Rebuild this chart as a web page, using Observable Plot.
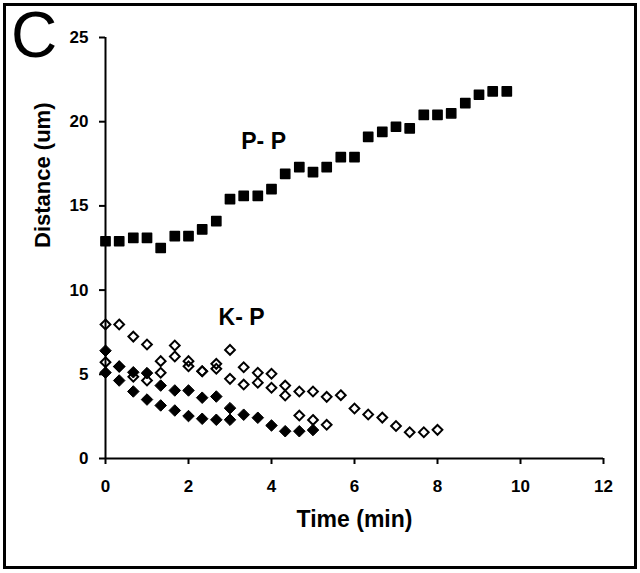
<!DOCTYPE html>
<html>
<head>
<meta charset="utf-8">
<script src="https://cdn.jsdelivr.net/npm/d3@7"></script>
<script src="https://cdn.jsdelivr.net/npm/@observablehq/plot@0.6"></script>
<style>
  html, body { margin: 0; padding: 0; background: #fff; }
  #wrap { position: relative; width: 640px; height: 573px; overflow: hidden; }
  #border { position: absolute; left: 3px; top: 3px; width: 628px; height: 560px; border: 3px solid #000; }
  #panel { position: absolute; left: 11px; top: 0px; font-family: "Liberation Sans", Arial, sans-serif; font-size: 64px; line-height: 1.12; color: #000; }
  svg { position: absolute; left: 0; top: 0; }
</style>
</head>
<body>
<div id="wrap">
  <div id="border"></div>
  <div id="panel">C</div>
</div>
<script>
// Time points (min), sampled every ~20 s
const times = [0, 0.33, 0.67, 1, 1.33, 1.67, 2, 2.33, 2.67, 3, 3.33, 3.67, 4, 4.33, 4.67,
               5, 5.33, 5.67, 6, 6.33, 6.67, 7, 7.33, 7.67, 8, 8.33, 8.67, 9, 9.33, 9.67];

// P-P distance (um), filled squares
const ppDist = [12.9, 12.9, 13.1, 13.1, 12.5, 13.2, 13.2, 13.6, 14.1, 15.4, 15.6, 15.6, 16.0, 16.9, 17.3,
                17.0, 17.3, 17.9, 17.9, 19.1, 19.4, 19.7, 19.6, 20.4, 20.4, 20.5, 21.1, 21.6, 21.8, 21.8];

// K-P distances (um): filled diamonds
const kpFilled1 = [6.4, 5.46, 5.12, 5.07, 4.33, 4.04, 4.04, 3.61, 3.68, 2.99, 2.6, 2.42, 1.96, 1.62, 1.62, 1.69];
const kpFilled2 = [5.1, 4.63, 3.98, 3.5, 3.15, 2.85, 2.52, 2.36, 2.3, 2.3];

// K-P distances (um): open diamonds
const kpOpen1 = [7.96, 7.96, 7.24, 6.77, 5.78, 6.71, 5.78, 5.18, 5.62, 6.45, 5.42, 5.09, 5.03, 4.33, 3.98,
                 3.98, 3.66, 3.76, 2.97, 2.61, 2.43, 1.93, 1.56, 1.56, 1.7];
const kpOpen2 = [5.72, 5.46, 4.85, 4.63, 5.09, 6.06, 5.48, 5.18, 5.33, 4.73, 4.39, 4.5, 4.2, 3.74, 2.55, 2.29, 2.0];

// Axis ticks and labels
const xTicks = [0, 2, 4, 6, 8, 10, 12];
const yTicks = [0, 5, 10, 15, 20, 25];
const xTitle = "Time (min)";
const yTitle = "Distance (um)";
const annotations = [
  {label: "P- P", t: 3.81, d: 18.8},
  {label: "K- P", t: 3.28, d: 8.37}
];

const toRows = (vals) => vals.map((v, i) => ({t: times[i], d: v}));
const pp = toRows(ppDist);
const f1 = toRows(kpFilled1);
const f2 = toRows(kpFilled2);
const o1 = toRows(kpOpen1);
const o2 = toRows(kpOpen2);

const font = "'Liberation Sans', Arial, sans-serif";

const chart = Plot.plot({
  width: 640,
  height: 573,
  marginLeft: 105,
  marginRight: 37,
  marginTop: 37,
  marginBottom: 115,
  style: {fontFamily: font, background: "transparent", color: "#000"},
  x: {domain: [0, 12]},
  y: {domain: [0, 25]},
  marks: [
    Plot.axisX({ticks: xTicks, tickSize: 6, tickPadding: 15, strokeWidth: 2, fontSize: 17, fontWeight: "bold", label: null}),
    Plot.axisY({ticks: yTicks, tickSize: 6, tickPadding: 11, strokeWidth: 2, fontSize: 17, fontWeight: "bold", label: null}),
    Plot.ruleY([0], {stroke: "#000", strokeWidth: 2}),
    Plot.ruleX([0], {stroke: "#000", strokeWidth: 2}),
    Plot.dot(o1, {x: "t", y: "d", symbol: "diamond2", r: 4.4, fill: "none", stroke: "#000", strokeWidth: 2}),
    Plot.dot(o2, {x: "t", y: "d", symbol: "diamond2", r: 4.4, fill: "none", stroke: "#000", strokeWidth: 2}),
    Plot.dot(f1, {x: "t", y: "d", symbol: "diamond2", r: 5.2, fill: "#000", stroke: "#000", strokeWidth: 1}),
    Plot.dot(f2, {x: "t", y: "d", symbol: "diamond2", r: 5.2, fill: "#000", stroke: "#000", strokeWidth: 1}),
    Plot.dot(pp, {x: "t", y: "d", symbol: "square", r: 5.2, fill: "#000", stroke: "#000", strokeWidth: 1.5, strokeLinejoin: "round"}),
    Plot.text(annotations, {x: "t", y: "d", text: "label", fontSize: 23, fontWeight: "bold", fill: "#000"}),
    Plot.text([xTitle], {frameAnchor: "bottom", dy: 68, fontSize: 23, fontWeight: "bold", fill: "#000"}),
    Plot.text([yTitle], {frameAnchor: "left", rotate: -90, dx: -63, fontSize: 22, fontWeight: "bold", fill: "#000"})
  ]
});
document.getElementById("wrap").appendChild(chart);
</script>
</body>
</html>
